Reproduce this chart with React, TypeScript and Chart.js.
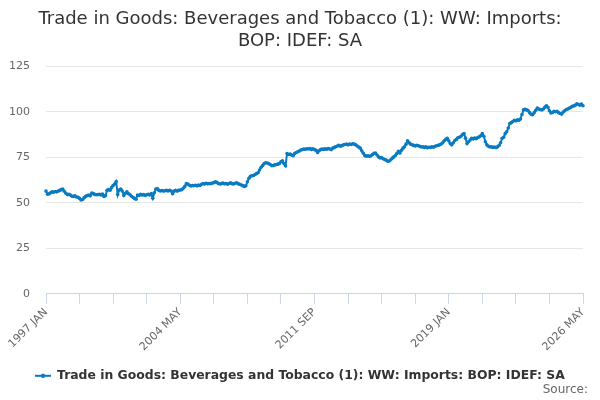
import React, { useEffect, useRef } from "react";
import { Chart, registerables, Plugin } from "chart.js";

Chart.register(...registerables);

const SERIES_NAME = "Trade in Goods: Beverages and Tobacco (1): WW: Imports: BOP: IDEF: SA";
const MONTHS = ["JAN", "FEB", "MAR", "APR", "MAY", "JUN", "JUL", "AUG", "SEP", "OCT", "NOV", "DEC"];
const FIRST_YEAR = 1997;

// monthly values, one array per year
const y1997 = [56.4, 54.7, 54.9, 55.5, 56.0, 55.8, 56.2, 56.0, 56.4, 56.8, 57.2, 57.5];
const y1998 = [56.3, 55.2, 54.5, 54.6, 54.2, 53.6, 53.5, 53.8, 53.2, 53.0, 52.4, 51.5];
const y1999 = [51.8, 52.8, 53.5, 54.0, 54.2, 53.8, 55.3, 55.0, 54.6, 54.4, 54.5, 54.7];
const y2000 = [54.3, 54.8, 53.5, 53.9, 56.8, 57.2, 56.9, 58.4, 59.5, 60.3, 61.6, 54.5];
const y2001 = [57.0, 57.5, 56.5, 54.0, 55.2, 56.0, 55.0, 54.5, 53.6, 53.0, 52.4, 52.0];
const y2002 = [54.3, 54.0, 54.6, 54.2, 54.5, 54.0, 54.4, 54.6, 54.3, 55.0, 52.5, 55.5];
const y2003 = [57.5, 57.8, 56.8, 56.5, 56.7, 56.4, 56.6, 56.8, 56.5, 56.9, 56.5, 55.0];
const y2004 = [56.4, 56.8, 56.4, 56.9, 57.0, 57.2, 58.0, 59.0, 60.5, 60.3, 59.6, 59.2];
const y2005 = [59.5, 59.4, 59.6, 59.3, 59.7, 59.5, 60.2, 60.5, 60.3, 60.7, 60.4, 60.6];
const y2006 = [60.5, 60.8, 61.0, 61.5, 61.2, 60.6, 60.3, 60.5, 60.8, 60.4, 60.6, 60.2];
const y2007 = [60.6, 60.9, 60.5, 60.3, 60.7, 61.0, 60.4, 60.2, 59.8, 59.4, 59.0, 59.3];
const y2008 = [61.5, 63.5, 64.5, 64.8, 65.0, 65.5, 66.0, 66.5, 68.0, 69.5, 70.5, 71.5];
const y2009 = [72.0, 71.8, 71.5, 71.0, 70.3, 70.5, 70.8, 71.0, 71.2, 71.5, 72.5, 73.0];
const y2010 = [71.5, 70.3, 77.0, 76.5, 76.8, 76.2, 75.8, 77.0, 77.6, 78.0, 78.4, 79.0];
const y2011 = [79.2, 79.5, 79.4, 79.7, 79.5, 79.8, 79.3, 79.6, 79.2, 78.8, 77.6, 78.6];
const y2012 = [79.2, 79.5, 79.3, 79.6, 79.4, 79.8, 79.5, 79.2, 80.0, 80.4, 80.8, 81.2];
const y2013 = [81.5, 81.0, 81.4, 81.8, 82.0, 82.2, 81.8, 82.3, 82.0, 82.4, 82.2, 81.8];
const y2014 = [81.2, 80.6, 80.0, 78.5, 77.2, 75.9, 75.6, 75.8, 75.5, 75.8, 76.5, 77.2];
const y2015 = [77.3, 76.2, 75.2, 74.6, 74.8, 74.2, 73.8, 73.4, 72.8, 72.9, 73.6, 74.5];
const y2016 = [75.2, 76.0, 77.0, 78.2, 77.4, 78.8, 80.0, 80.8, 82.2, 84.0, 83.0, 82.2];
const y2017 = [81.8, 81.5, 81.2, 81.6, 81.3, 81.0, 80.6, 80.8, 80.4, 80.7, 80.2, 80.5];
const y2018 = [80.4, 80.8, 80.5, 81.0, 81.3, 81.5, 81.8, 82.3, 83.0, 84.0, 84.8, 85.4];
const y2019 = [84.0, 82.5, 81.8, 83.0, 84.2, 84.8, 85.7, 86.0, 86.5, 87.5, 88.0, 85.5];
const y2020 = [82.5, 83.5, 84.5, 85.4, 85.0, 85.6, 85.2, 85.8, 86.2, 86.8, 88.0, 86.5];
const y2021 = [83.5, 81.8, 81.0, 80.6, 80.8, 80.4, 80.6, 80.3, 80.7, 81.5, 83.0, 85.4];
const y2022 = [86.0, 88.0, 89.0, 91.0, 93.5, 94.0, 94.6, 95.3, 95.0, 95.5, 95.3, 96.0];
const y2023 = [98.5, 101.0, 101.3, 101.0, 100.6, 99.5, 98.6, 98.3, 99.5, 100.8, 102.0, 101.5];
const y2024 = [101.2, 101.0, 101.5, 102.5, 103.3, 102.4, 100.5, 99.3, 99.6, 100.2, 100.0, 100.3];
const y2025 = [99.5, 99.0, 98.7, 99.8, 100.5, 101.2, 101.5, 102.0, 102.4, 103.0, 103.2, 103.6];
const y2026 = [104.4, 104.0, 103.6, 104.2, 103.3];

const YEARS = [
  y1997, y1998, y1999, y2000, y2001, y2002, y2003, y2004, y2005, y2006,
  y2007, y2008, y2009, y2010, y2011, y2012, y2013, y2014, y2015, y2016,
  y2017, y2018, y2019, y2020, y2021, y2022, y2023, y2024, y2025, y2026,
];

const values: number[] = YEARS.flat();
const labels: string[] = YEARS.flatMap((arr, yi) =>
  arr.map((_, m) => `${FIRST_YEAR + yi} ${MONTHS[m]}`)
);

const Y_TICKS = [0, 25, 50, 75, 100, 125];
const LINE_COLOR = "#0a7bc1";
const FONT = "'DejaVu Sans', sans-serif";

function legendMarker(): HTMLCanvasElement {
  const c = document.createElement("canvas");
  c.width = 16;
  c.height = 6;
  const g = c.getContext("2d");
  if (g) {
    g.strokeStyle = LINE_COLOR;
    g.lineWidth = 2;
    g.beginPath();
    g.moveTo(0, 3);
    g.lineTo(16, 3);
    g.stroke();
    g.fillStyle = LINE_COLOR;
    g.beginPath();
    g.arc(8, 3, 2.2, 0, Math.PI * 2);
    g.fill();
  }
  return c;
}

// "Source:" credit in the bottom right corner
const creditPlugin: Plugin = {
  id: "credit",
  afterDraw(chart) {
    const ctx = chart.ctx;
    ctx.save();
    ctx.font = `12px ${FONT}`;
    ctx.fillStyle = "#666666";
    ctx.textAlign = "right";
    ctx.textBaseline = "middle";
    ctx.fillText("Source:", chart.width - 12, chart.height - 10);
    ctx.restore();
  },
};

const App: React.FC = () => {
  const chartRef = useRef<HTMLCanvasElement | null>(null);
  const chartInstance = useRef<Chart | null>(null);

  useEffect(() => {
    document.body.style.margin = "0";
    if (!chartRef.current) return;
    if (chartInstance.current) chartInstance.current.destroy();

    const marker = legendMarker();

    chartInstance.current = new Chart(chartRef.current, {
      type: "line",
      data: {
        labels,
        datasets: [
          {
            label: SERIES_NAME,
            data: values,
            borderColor: LINE_COLOR,
            backgroundColor: LINE_COLOR,
            borderWidth: 2,
            pointRadius: 1.8,
            pointBorderWidth: 0,
            pointStyle: "circle",
            fill: false,
          },
        ],
      },
      plugins: [creditPlugin],
      options: {
        animation: false,
        responsive: false,
        layout: { padding: { left: 0, right: 0, top: 0, bottom: 8 } },
        plugins: {
          title: {
            display: true,
            text: ["Trade in Goods: Beverages and Tobacco (1): WW: Imports:", "BOP: IDEF: SA"],
            color: "#333333",
            font: { family: FONT, size: 18, weight: "normal" },
            padding: { top: 9, bottom: 14 },
          },
          legend: {
            position: "bottom",
            labels: {
              usePointStyle: true,
              pointStyle: marker as any,
              pointStyleWidth: 15.6,
              color: "#333333",
              font: { family: FONT, size: 12.4, weight: "bold" },
              padding: 8,
            },
          },
          tooltip: { enabled: false },
        },
        scales: {
          x: {
            type: "category",
            offset: false,
            border: { display: true, color: "#ccd6eb", width: 1 },
            grid: {
              display: true,
              drawOnChartArea: false,
              drawTicks: true,
              tickLength: 10,
              color: "#ccd6eb",
            },
            afterFit: (axis) => {
              axis.height += 6;
            },
            ticks: {
              autoSkip: false,
              maxRotation: 45,
              minRotation: 45,
              color: "#666666",
              font: { family: FONT, size: 11 },
              padding: 2,
              callback: (_v, index) =>
                index % 88 === 0 ? labels[index] : index % 22 === 0 ? "" : null,
            },
          },
          y: {
            min: 0,
            max: 125,
            afterBuildTicks: (axis) => {
              axis.ticks = Y_TICKS.map((v) => ({ value: v }));
            },
            afterFit: (axis) => {
              axis.width = 46;
            },
            border: { display: false },
            grid: { color: "#e6e6e6", drawTicks: false },
            ticks: {
              color: "#666666",
              font: { family: FONT, size: 11 },
              padding: 16,
            },
          },
          // empty right-hand axis, only reserves the right margin of the plot
          yRight: {
            position: "right",
            min: 0,
            max: 125,
            border: { display: false },
            grid: { display: false },
            ticks: { display: false },
            afterFit: (axis) => {
              axis.width = 17;
            },
          },
        },
      },
    });

    return () => {
      if (chartInstance.current) {
        chartInstance.current.destroy();
        chartInstance.current = null;
      }
    };
  }, []);

  return (
    <div style={{ width: 600, height: 400 }}>
      <canvas ref={chartRef} width={600} height={400}></canvas>
    </div>
  );
};

export default App;
